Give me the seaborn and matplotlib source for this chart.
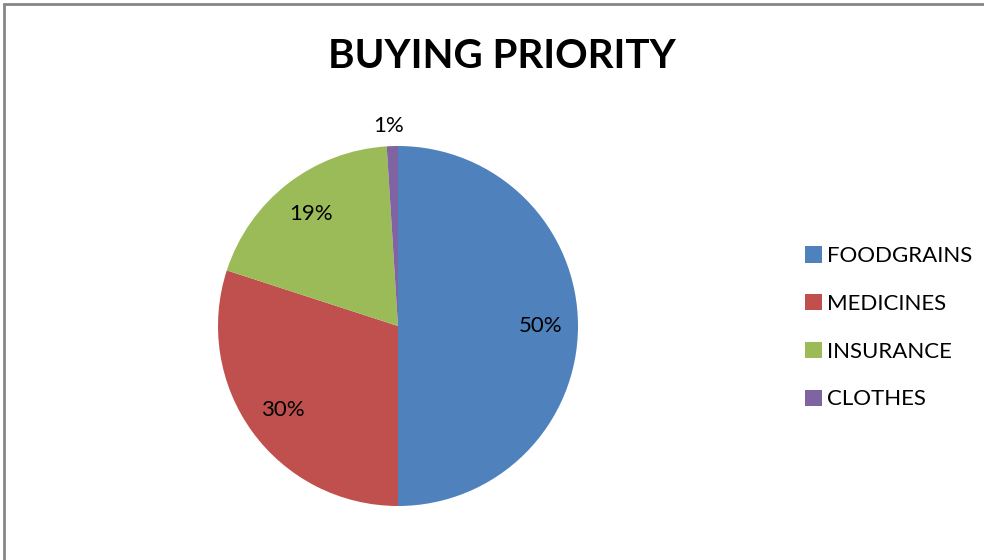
import matplotlib
matplotlib.use("Agg")
import matplotlib.pyplot as plt
import seaborn as sns
from matplotlib.patches import Patch
from matplotlib.lines import Line2D

categories = ["FOODGRAINS", "MEDICINES", "INSURANCE", "CLOTHES"]
values = [50, 30, 19, 1]
colors = ["#4F81BD", "#C0504D", "#9BBB59", "#8064A2"]
title = "BUYING PRIORITY"

sns.set_theme(style="white")
plt.rcParams["font.family"] = ["Lato", "DejaVu Sans"]
plt.rcParams["text.color"] = "black"

W, H = 984, 560
fig = plt.figure(figsize=(W / 100, H / 100), dpi=100)

cx, cy, r = 398, 326, 180
ax = fig.add_axes([(cx - r) / W, (H - cy - r) / H, 2 * r / W, 2 * r / H])
wedges, texts, autotexts = ax.pie(
    values, colors=colors, startangle=90, counterclock=False,
    autopct=lambda p: f"{p:.0f}%", pctdistance=0.79,
    wedgeprops=dict(linewidth=0), textprops=dict(fontsize=16, color="black"),
)
# small slice label sits outside
autotexts[3].set_position((-0.05, 1.11))
ax.set_xlim(-1, 1)
ax.set_ylim(-1, 1)
ax.set_aspect("equal")
ax.axis("off")

fig.text(502 / W, 1 - 57 / H, title, ha="center", va="center",
         fontsize=29, fontweight="bold", color="black")

handles = [Patch(facecolor=c, edgecolor="none") for c in colors]
fig.legend(handles, categories, loc="upper left",
           bbox_to_anchor=(794 / W, 1 - 235 / H), frameon=False,
           fontsize=16, handlelength=0.75, handleheight=0.75,
           handletextpad=0.25, labelspacing=1.25, borderpad=0,
           labelcolor="black")

# chart area border (top and left edges visible)
fig.add_artist(Line2D([4 / W, 4 / W], [0, 1 - 4 / H], color="#868686", lw=2,
                      transform=fig.transFigure))
fig.add_artist(Line2D([4 / W, 1], [1 - 4 / H, 1 - 4 / H], color="#868686", lw=2,
                      transform=fig.transFigure))

fig.savefig("out.png", dpi=100)
